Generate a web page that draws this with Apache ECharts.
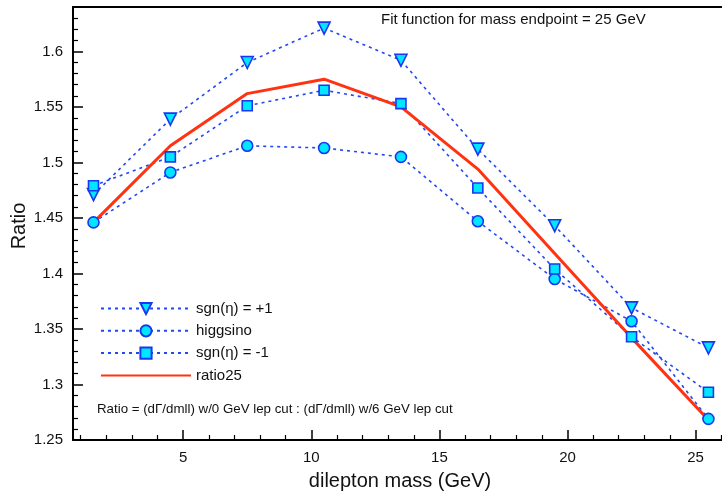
<!DOCTYPE html>
<html>
<head>
<meta charset="utf-8">
<script src="https://cdn.jsdelivr.net/npm/echarts@6/dist/echarts.min.js"></script>
<style>
  html, body { margin: 0; padding: 0; background: #fff; }
  #chart { width: 722px; height: 496px; }
</style>
</head>
<body>
<div id="chart"></div>
<script>
// dilepton mass bin centres (GeV)
const mass = [1.5, 4.5, 7.5, 10.5, 13.5, 16.5, 19.5, 22.5, 25.5];

// ratio values
const sgnPlus  = [1.471, 1.539, 1.590, 1.621, 1.592, 1.512, 1.443, 1.369, 1.333];
const higgsino = [1.446, 1.491, 1.515, 1.513, 1.505, 1.447, 1.395, 1.357, 1.269];
const sgnMinus = [1.479, 1.505, 1.551, 1.565, 1.553, 1.477, 1.404, 1.343, 1.293];
const ratio25  = [1.446, 1.515, 1.562, 1.575, 1.550, 1.494, 1.418, 1.342, 1.268];

// axis ticks
const xTicks = [5, 10, 15, 20, 25];
const yTicks = [1.25, 1.3, 1.35, 1.4, 1.45, 1.5, 1.55, 1.6];

// minor ticks: every 1 GeV on x, every 0.01 on y
const xMinor = [];
for (let i = 1; i <= 26; i++) if (i % 5 !== 0) xMinor.push(i);
const yMinor = [];
for (let i = 126; i <= 163; i++) if (i % 5 !== 0) yMinor.push(i / 100);

const pairs = vals => mass.map((m, i) => [m, vals[i]]);

const font = 'Liberation Sans, Arial, Helvetica, sans-serif';
const dotColor = '#2347f2';
const fill = '#00e6ff';
const edge = '#1638f0';

const XMIN = 0.7, XMAX = 26.03, YMIN = 1.25, YMAX = 1.64;

const dotted = (name, vals, symbol, size, rotate) => ({
  name: name,
  type: 'line',
  data: pairs(vals),
  symbol: symbol,
  symbolSize: size,
  symbolRotate: rotate || 0,
  showAllSymbol: true,
  lineStyle: { color: dotColor, width: 1.6, type: [3, 4] },
  itemStyle: { color: fill, borderColor: edge, borderWidth: 1.6 },
  emphasis: { disabled: true }
});

const chart = echarts.init(document.getElementById('chart'), null, { renderer: 'canvas' });

chart.setOption({
  animation: false,
  backgroundColor: '#fff',
  textStyle: { fontFamily: font },
  grid: { left: 73, right: 0, top: 7, bottom: 56 },
  legend: {
    orient: 'vertical',
    left: 95,
    top: 296,
    itemWidth: 90,
    itemHeight: 14,
    itemGap: 7.3,
    textStyle: { fontSize: 15, color: '#111', fontFamily: font },
    data: [
      'sgn(η) = +1',
      'higgsino',
      'sgn(η) = -1',
      { name: 'ratio25', itemStyle: { opacity: 0 } }
    ]
  },
  xAxis: [
    {
      type: 'value', min: XMIN, max: XMAX, position: 'bottom',
      axisLine: { lineStyle: { color: '#000', width: 2 } },
      axisTick: { inside: true, length: 10, customValues: xTicks, lineStyle: { color: '#000', width: 1.5 } },
      axisLabel: { customValues: xTicks, fontSize: 15, color: '#111', margin: 10, fontFamily: font },
      splitLine: { show: false }
    },
    {
      type: 'value', min: XMIN, max: XMAX, position: 'bottom',
      axisLine: { show: false },
      axisTick: { inside: true, length: 5, customValues: xMinor, lineStyle: { color: '#000', width: 1.2 } },
      axisLabel: { show: false },
      splitLine: { show: false }
    },
    {
      type: 'value', min: XMIN, max: XMAX, position: 'top',
      axisLine: { lineStyle: { color: '#000', width: 2 } },
      axisTick: { show: false },
      axisLabel: { show: false },
      splitLine: { show: false }
    }
  ],
  yAxis: [
    {
      type: 'value', min: YMIN, max: YMAX, position: 'left',
      axisLine: { show: true, lineStyle: { color: '#000', width: 2 } },
      axisTick: { inside: true, length: 10, customValues: yTicks, lineStyle: { color: '#000', width: 1.5 } },
      axisLabel: { customValues: yTicks, fontSize: 15, color: '#111', margin: 10, fontFamily: font },
      splitLine: { show: false }
    },
    {
      type: 'value', min: YMIN, max: YMAX, position: 'left',
      axisLine: { show: false },
      axisTick: { inside: true, length: 5, customValues: yMinor, lineStyle: { color: '#000', width: 1.2 } },
      axisLabel: { show: false },
      splitLine: { show: false }
    }
  ],
  series: [
    dotted('sgn(η) = +1', sgnPlus, 'triangle', 12, 180),
    dotted('higgsino', higgsino, 'circle', 11),
    dotted('sgn(η) = -1', sgnMinus, 'rect', 10),
    {
      name: 'ratio25',
      type: 'line',
      data: pairs(ratio25),
      symbol: 'none',
      lineStyle: { color: '#ff3311', width: 3 },
      itemStyle: { color: '#ff3311' },
      emphasis: { disabled: true },
      z: 3
    }
  ],
  graphic: [
    {
      type: 'text', left: 381, top: 12,
      style: { text: 'Fit function for mass endpoint = 25 GeV', font: '15px ' + font, fill: '#111' }
    },
    {
      type: 'text', left: 97, top: 403,
      style: { text: 'Ratio = (dΓ/dmll) w/0 GeV lep cut : (dΓ/dmll) w/6 GeV lep cut', font: '13.3px ' + font, fill: '#111' }
    },
    {
      type: 'text', x: 400, y: 481,
      style: { text: 'dilepton mass (GeV)', font: '20px ' + font, fill: '#111', align: 'center', verticalAlign: 'middle' }
    },
    {
      type: 'text', x: 19, y: 226, rotation: Math.PI / 2,
      style: { text: 'Ratio', font: '20px ' + font, fill: '#111', align: 'center', verticalAlign: 'middle' }
    }
  ]
});
</script>
</body>
</html>
